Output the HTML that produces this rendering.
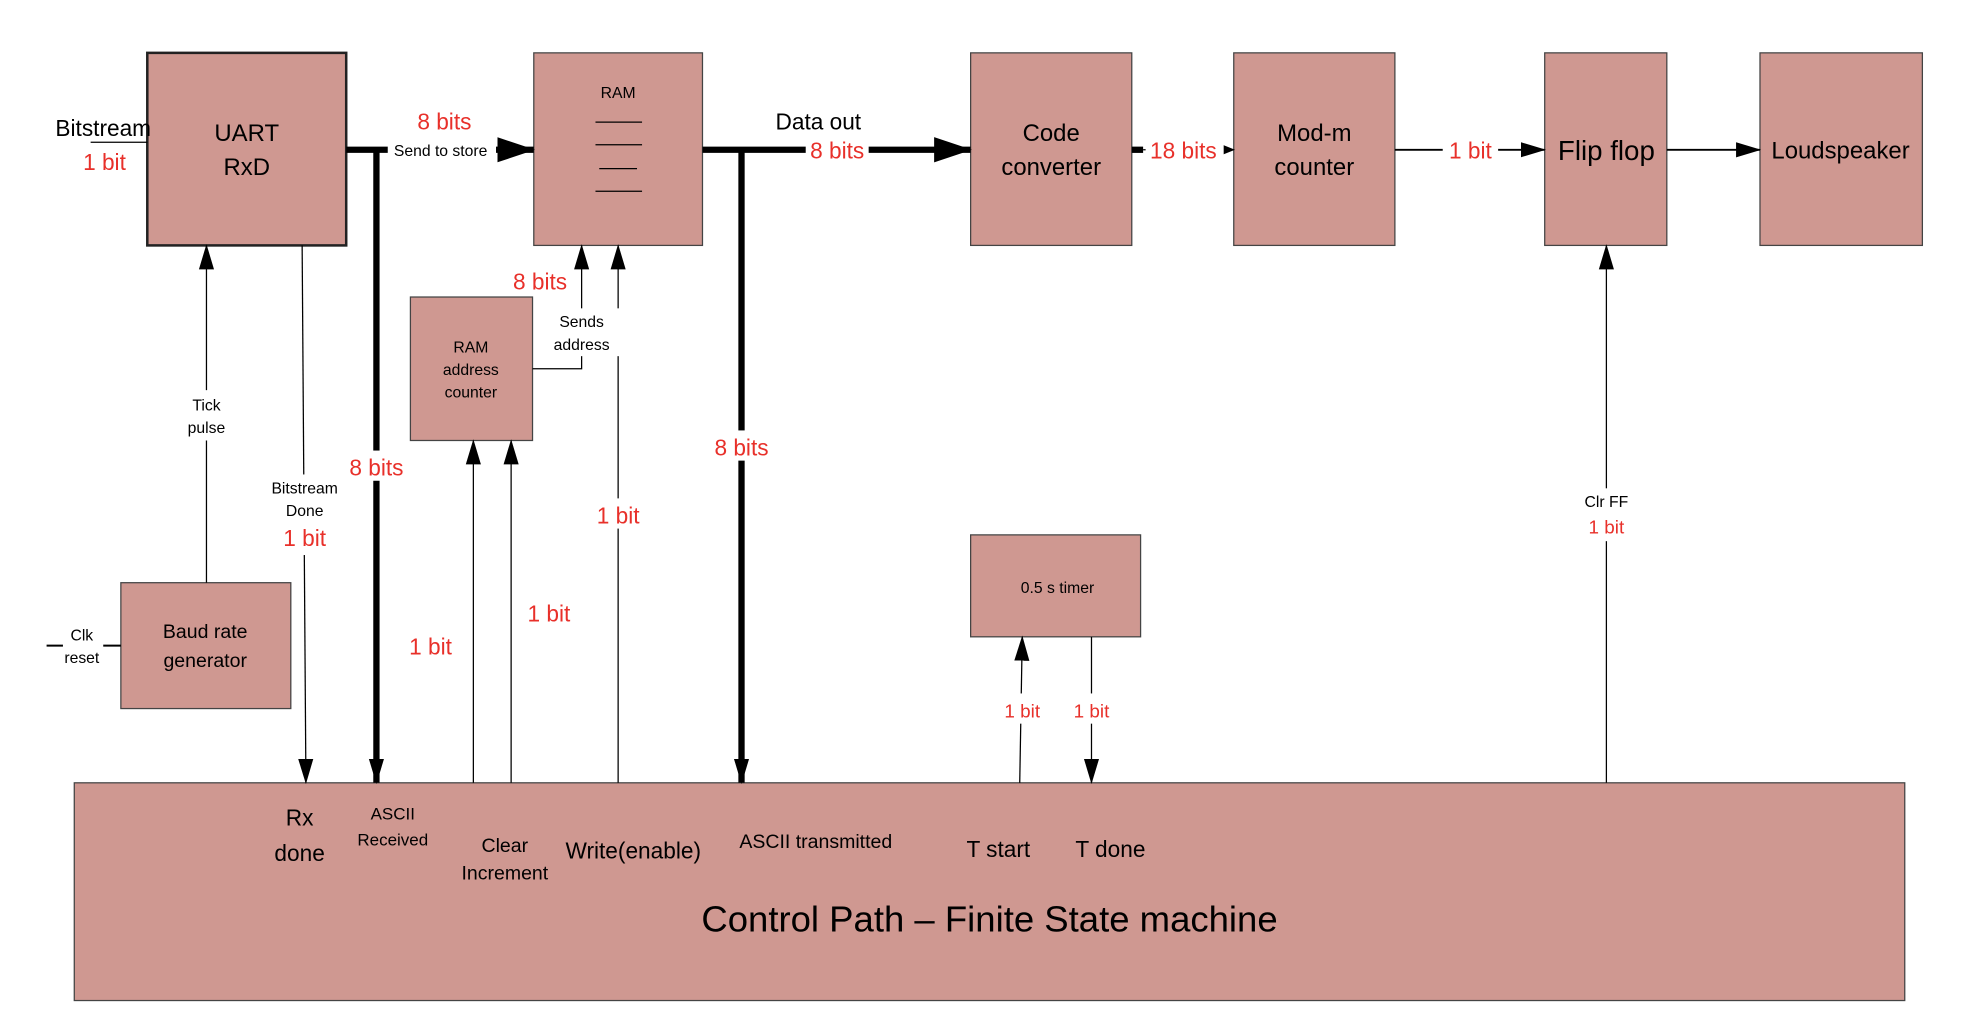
<!DOCTYPE html>
<html><head><meta charset="utf-8"><style>
html,body{margin:0;padding:0;background:#fff;}
svg{display:block;}
text{font-family:"Liberation Sans",sans-serif;text-anchor:middle;}
.r{fill:#e8302a;}
</style></head><body>
<svg width="1974" height="1032" viewBox="0 0 1568 820" preserveAspectRatio="none" xmlns="http://www.w3.org/2000/svg">
<defs>
<marker id="a" markerWidth="10" markerHeight="10" refX="9" refY="5" orient="auto" markerUnits="userSpaceOnUse"><path d="M0,1 L10,5 L0,9 z" fill="#000"/></marker>
<marker id="b" markerWidth="30" markerHeight="30" refX="29" refY="15" orient="auto" markerUnits="userSpaceOnUse"><path d="M0,5 L30,15 L0,25 z" fill="#000"/></marker>
<marker id="c" markerWidth="20" markerHeight="20" refX="19" refY="10" orient="auto" markerUnits="userSpaceOnUse"><path d="M0,4 L20,10 L0,16 z" fill="#000"/></marker>
</defs>
<g fill="#cf9891" stroke="#444" stroke-width="1">
<rect x="117" y="42" width="158" height="153" stroke="#222" stroke-width="2"/>
<rect x="424" y="42" width="134" height="153"/>
<rect x="771" y="42" width="128" height="153"/>
<rect x="980" y="42" width="128" height="153"/>
<rect x="1227" y="42" width="97" height="153"/>
<rect x="1398" y="42" width="129" height="153"/>
<rect x="326" y="236" width="97" height="114"/>
<rect x="96" y="463" width="135" height="100"/>
<rect x="771" y="425" width="135" height="81"/>
<rect x="59" y="622" width="1454" height="173"/>
</g>
<g stroke="#000" fill="none">
<path d="M473 97H510M473 115H510M476 134H506M473 152H510" stroke-width="1"/>
<path d="M72 113H117" stroke-width="1"/>
<path d="M275 119H424" stroke-width="5" marker-end="url(#b)"/>
<path d="M299 119V622" stroke-width="5" marker-end="url(#c)"/>
<path d="M558 119H771" stroke-width="5" marker-end="url(#b)"/>
<path d="M589 119V622" stroke-width="5" marker-end="url(#c)"/>
<path d="M899 119H908" stroke-width="5"/>
<path d="M908 119H980" stroke-width="1" marker-end="url(#a)"/>
<path d="M1108 119H1227" stroke-width="1.5" marker-end="url(#c)"/>
<path d="M1324 119H1398" stroke-width="1.5" marker-end="url(#c)"/>
<path d="M1276 622V195" stroke-width="1" marker-end="url(#c)"/>
<path d="M164 463V195" stroke-width="1" marker-end="url(#c)"/>
<path d="M240 195L243 622" stroke-width="1" marker-end="url(#c)"/>
<path d="M423 293H462V195" stroke-width="1" marker-end="url(#c)"/>
<path d="M491 622V195" stroke-width="1" marker-end="url(#c)"/>
<path d="M376 622V350" stroke-width="1" marker-end="url(#c)"/>
<path d="M406 622V350" stroke-width="1" marker-end="url(#c)"/>
<path d="M810 622L812 506" stroke-width="1" marker-end="url(#c)"/>
<path d="M867 506V622" stroke-width="1" marker-end="url(#c)"/>
<path d="M37 513H50M82 513H96" stroke-width="1.5"/>
</g>
<g fill="#fff">
<rect x="132" y="310" width="64" height="40"/>
<rect x="205" y="377" width="74" height="64"/>
<rect x="270" y="358" width="58" height="24"/>
<rect x="560" y="342" width="58" height="24"/>
<rect x="432" y="245" width="60" height="38"/>
<rect x="465" y="396" width="52" height="24"/>
<rect x="1248" y="388" width="56" height="42"/>
<rect x="790" y="551" width="44" height="24"/>
<rect x="845" y="551" width="44" height="24"/>
<rect x="308" y="110" width="86" height="18"/>
<rect x="640" y="108" width="50" height="22"/>
<rect x="910" y="108" width="62" height="22"/>
<rect x="1146" y="108" width="44" height="22"/>
</g>
<g font-size="19">
<text x="196" y="112">UART</text><text x="196" y="139">RxD</text>
<text x="835" y="112">Code</text><text x="835" y="139">converter</text>
<text x="1044" y="112">Mod-m</text><text x="1044" y="139">counter</text>
<text x="1276" y="127" font-size="22">Flip flop</text>
<text x="1462" y="126" font-size="19">Loudspeaker</text>
<text x="82" y="108" font-size="18">Bitstream</text>
<text x="650" y="103" font-size="18">Data out</text>
</g>
<g font-size="12.5">
<text x="491" y="78">RAM</text>
<text x="350" y="124" font-size="12.5">Send to store</text>
<text x="164" y="326">Tick</text><text x="164" y="344">pulse</text>
<text x="242" y="392">Bitstream</text><text x="242" y="410">Done</text>
<text x="374" y="280">RAM</text><text x="374" y="298">address</text><text x="374" y="316">counter</text>
<text x="462" y="260">Sends</text><text x="462" y="278">address</text>
<text x="1276" y="403">Clr FF</text>
<text x="840" y="471">0.5 s timer</text>
<text x="65" y="509">Clk</text><text x="65" y="527">reset</text>
<text x="312" y="651" font-size="13.5">ASCII</text><text x="312" y="672" font-size="13.5">Received</text>
</g>
<g font-size="15.5">
<text x="163" y="507">Baud rate</text><text x="163" y="530">generator</text>
<text x="401" y="677">Clear</text><text x="401" y="699">Increment</text>
<text x="648" y="674">ASCII transmitted</text>
</g>
<g font-size="18">
<text x="238" y="656">Rx</text><text x="238" y="684">done</text>
<text x="503" y="682">Write(enable)</text>
<text x="793" y="681">T start</text>
<text x="882" y="681">T done</text>
</g>
<text x="786" y="740" font-size="29">Control Path – Finite State machine</text>
<g class="r" font-size="18">
<text x="83" y="135">1 bit</text>
<text x="353" y="103">8 bits</text>
<text x="665" y="126">8 bits</text>
<text x="940" y="126">18 bits</text>
<text x="1168" y="126">1 bit</text>
<text x="429" y="230">8 bits</text>
<text x="299" y="378">8 bits</text>
<text x="589" y="362">8 bits</text>
<text x="491" y="416">1 bit</text>
<text x="242" y="434">1 bit</text>
<text x="342" y="520">1 bit</text>
<text x="436" y="494">1 bit</text>
<text x="1276" y="424" font-size="15">1 bit</text>
<text x="812" y="570" font-size="15">1 bit</text>
<text x="867" y="570" font-size="15">1 bit</text>
</g>
</svg>
</body></html>
